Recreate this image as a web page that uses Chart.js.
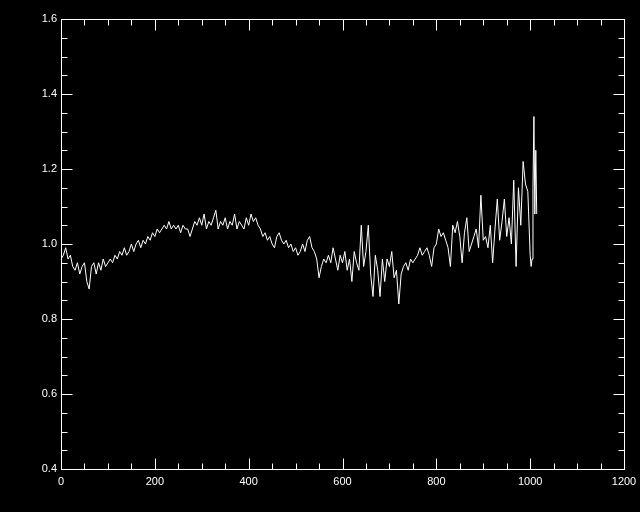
<!DOCTYPE html>
<html>
<head>
<meta charset="utf-8">
<script src="https://cdn.jsdelivr.net/npm/chart.js@4"></script>
<style>
  html, body { margin: 0; padding: 0; background: #000; }
  #wrap { width: 640px; height: 512px; position: relative; }
</style>
</head>
<body>
<div id="wrap"><canvas id="plot"></canvas></div>
<script>
// sample values, one every 5 units from 0 to 1000
const ys = [
  0.96, 0.97, 0.99, 0.96, 0.97, 0.94, 0.93, 0.95, 0.92, 0.94, 0.95, 0.90, 0.88, 0.94, 0.95, 0.92, 0.95, 0.93, 0.96, 0.94, 0.95,
  0.96, 0.95, 0.97, 0.96, 0.98, 0.97, 0.99, 0.97, 0.98, 1.00, 0.98, 1.00, 1.01, 0.99,
  1.01, 1.00, 1.02, 1.01, 1.03, 1.02, 1.04, 1.03, 1.04, 1.05, 1.04, 1.06, 1.04, 1.05,
  1.04, 1.05, 1.03, 1.05, 1.04, 1.04, 1.02, 1.04, 1.06, 1.05, 1.07, 1.05, 1.08, 1.04, 1.06, 1.05, 1.07, 1.09, 1.04, 1.06,
  1.05, 1.07, 1.04, 1.06, 1.05, 1.08, 1.04, 1.06, 1.05, 1.04, 1.07, 1.05, 1.08, 1.06, 1.07, 1.05, 1.04,
  1.02, 1.03, 1.01, 1.02, 1.00, 0.99, 1.02, 1.03, 1.01, 1.00, 1.01, 0.99, 1.00, 0.98, 0.99, 0.97, 0.98, 1.00, 0.98, 1.01, 1.02, 0.99, 0.98, 0.96,
  0.91, 0.94, 0.96, 0.95, 0.97, 0.95, 0.99, 0.96, 0.93, 0.97, 0.95,
  0.98, 0.93, 0.96, 0.90, 0.98, 0.95, 0.93, 1.05, 0.94, 0.98, 1.05, 0.92, 0.86, 0.97, 0.93, 0.86, 0.96, 0.90, 0.96, 0.94,
  0.98, 0.91, 0.93, 0.84, 0.92, 0.94, 0.95, 0.93, 0.96, 0.95, 0.96, 0.97, 0.99, 0.97, 0.98, 0.99, 0.97, 0.94, 0.99, 1.00,
  1.04, 1.02, 1.03, 1.01, 0.99, 0.94, 1.05, 1.03, 1.06, 1.02, 0.95, 1.03, 1.07, 0.98, 1.00, 1.02, 1.04, 0.99, 1.13, 1.01,
  1.02, 0.99, 1.05, 0.95, 1.04, 1.12, 1.01, 1.06, 1.12, 1.02, 1.07, 1.00, 1.17, 0.94, 1.15, 1.05, 1.22, 1.16, 1.14, 0.97
];
const xs = ys.map((_, i) => i * 5);

// the last few samples are closer together
const tailX = [1002, 1004, 1006, 1008, 1010, 1012, 1014];
const tailY = [0.94, 0.96, 1.15, 1.34, 1.08, 1.25, 1.08];

const xMin = 0, xMax = 1200, xMajor = 200, xMinor = 50;
const yMin = 0.4, yMax = 1.6, yMajor = 0.2, yMinor = 0.05;

const points = xs.map((x, i) => ({ x, y: ys[i] }))
  .concat(tailX.map((x, i) => ({ x, y: tailY[i] })));

const frameTicks = {
  id: 'frameTicks',
  beforeDraw(chart) {
    const ctx = chart.ctx;
    ctx.save();
    ctx.fillStyle = '#000';
    ctx.fillRect(0, 0, chart.width, chart.height);
    ctx.restore();
  },
  afterDraw(chart) {
    const { ctx, chartArea: a, scales } = chart;
    const l = Math.round(a.left) + 0.5, r = Math.round(a.right) + 0.5;
    const t = Math.round(a.top) + 0.5, b = Math.round(a.bottom) + 0.5;
    ctx.save();
    ctx.strokeStyle = '#fff';
    ctx.lineWidth = 1;
    ctx.strokeRect(l, t, r - l, b - t);
    ctx.beginPath();
    const nx = Math.round((xMax - xMin) / xMinor);
    for (let i = 1; i < nx; i++) {
      const v = xMin + i * xMinor;
      const len = (v % xMajor === 0) ? 11 : 6;
      const px = Math.round(scales.x.getPixelForValue(v)) + 0.5;
      ctx.moveTo(px, b); ctx.lineTo(px, b - len);
      ctx.moveTo(px, t); ctx.lineTo(px, t + len);
    }
    const ny = Math.round((yMax - yMin) / yMinor);
    const per = Math.round(yMajor / yMinor);
    for (let i = 1; i < ny; i++) {
      const v = yMin + i * yMinor;
      const len = (i % per === 0) ? 11 : 6;
      const py = Math.round(scales.y.getPixelForValue(v)) + 0.5;
      ctx.moveTo(l, py); ctx.lineTo(l + len, py);
      ctx.moveTo(r, py); ctx.lineTo(r - len, py);
    }
    ctx.stroke();
    ctx.restore();
  }
};

new Chart(document.getElementById('plot'), {
  type: 'line',
  data: {
    datasets: [{
      data: points,
      borderColor: '#fff',
      borderWidth: 1,
      pointRadius: 0,
      tension: 0,
      fill: false
    }]
  },
  options: {
    responsive: true,
    maintainAspectRatio: false,
    animation: false,
    layout: { padding: { top: 19, right: 16, left: 0, bottom: 0 } },
    plugins: { legend: { display: false }, tooltip: { enabled: false } },
    scales: {
      x: {
        type: 'linear',
        min: xMin, max: xMax,
        grid: { display: false, drawTicks: false },
        border: { display: false },
        ticks: {
          stepSize: xMajor, color: '#fff', padding: 6,
          font: { family: 'Liberation Sans', size: 11 },
          maxRotation: 0,
          callback: v => String(v)
        },
        afterFit: s => { s.height = 43; s.paddingLeft = 0; s.paddingRight = 0; }
      },
      y: {
        min: yMin, max: yMax,
        grid: { display: false, drawTicks: false },
        border: { display: false },
        ticks: {
          stepSize: yMajor, color: '#fff', padding: 4,
          font: { family: 'Liberation Sans', size: 11 },
          callback: v => Number(v).toFixed(1)
        },
        afterFit: s => { s.width = 61; s.paddingTop = 0; s.paddingBottom = 0; }
      }
    }
  },
  plugins: [frameTicks]
});
</script>
</body>
</html>
